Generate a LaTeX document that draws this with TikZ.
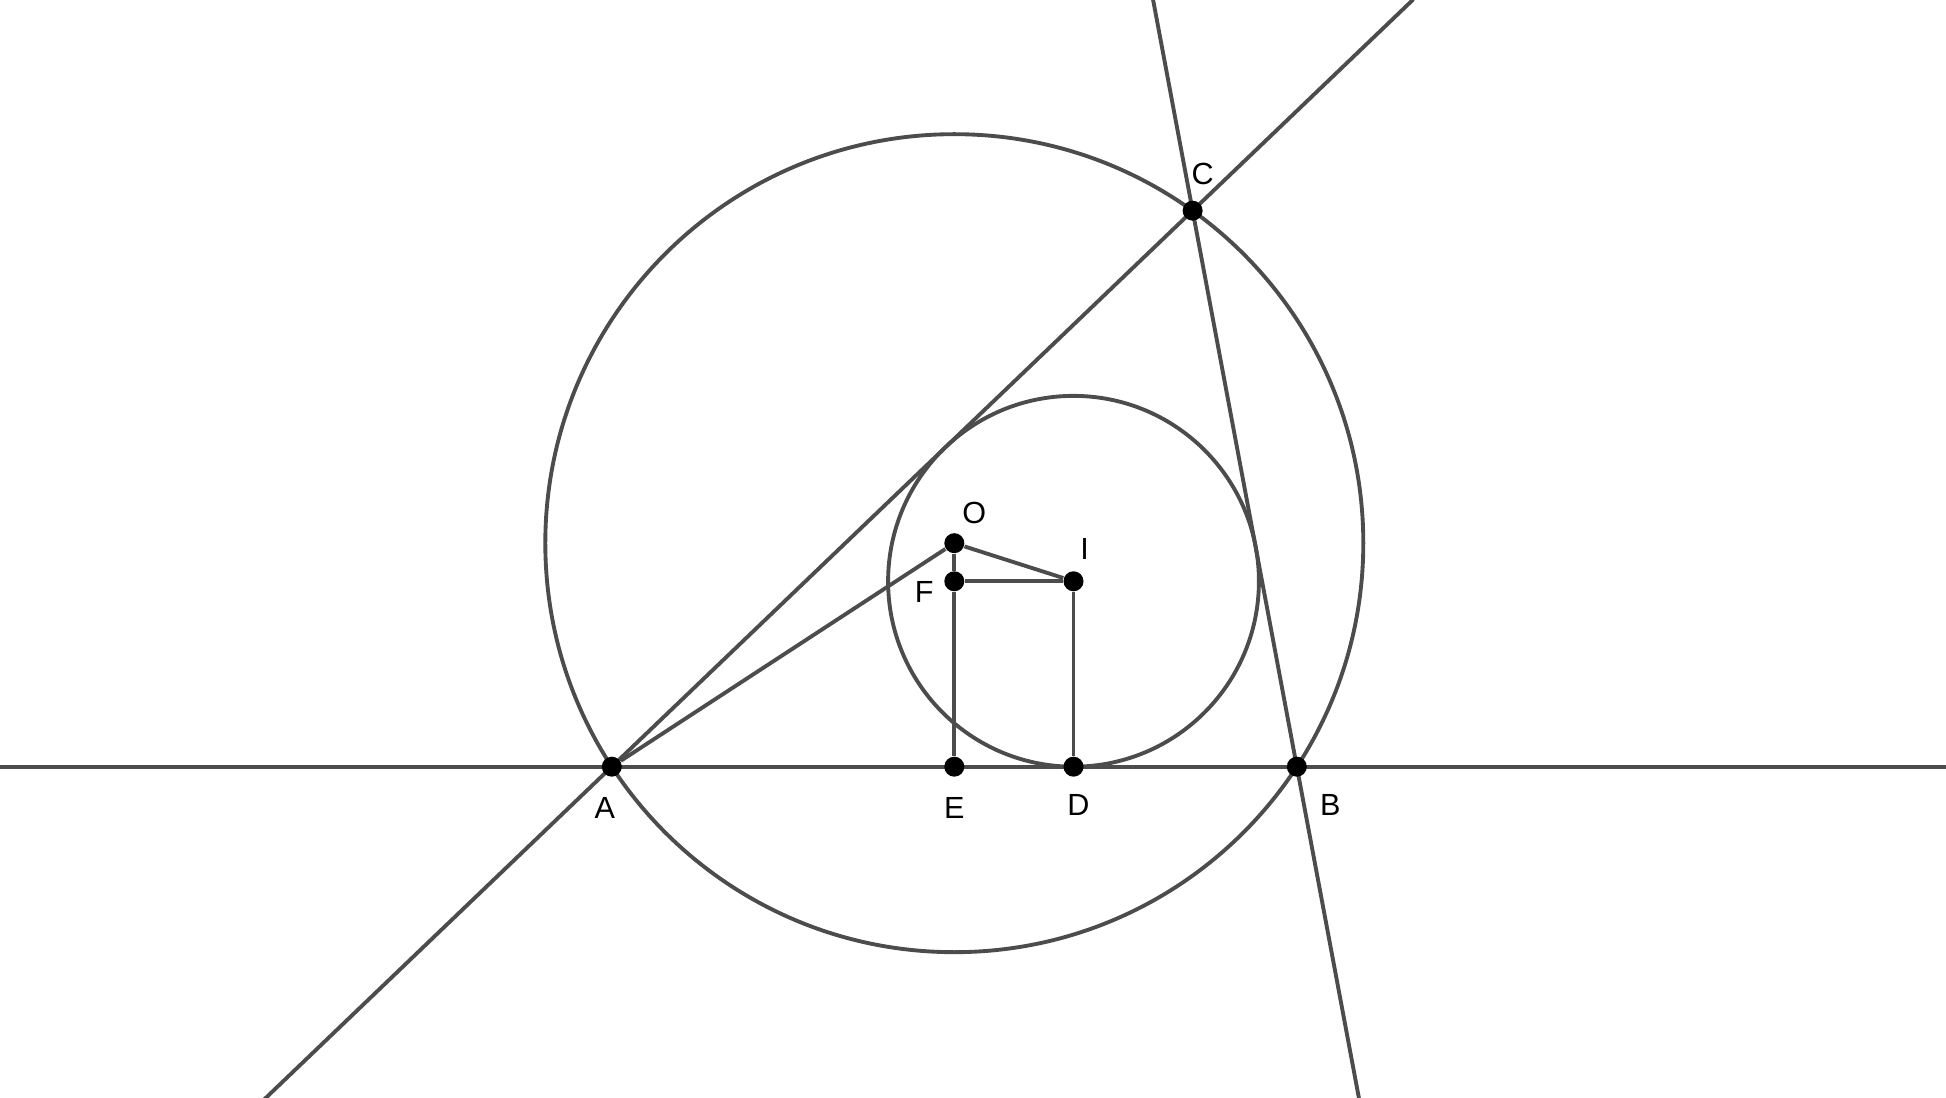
\documentclass[tikz,border=0pt]{standalone}
\usepackage{fontspec}
\setsansfont{Liberation Sans}
\usetikzlibrary{calc,backgrounds}
\tikzstyle{dot} = [circle,fill=black,inner sep=0pt,minimum size=2mm]
\tikzstyle{lbl} = [font=\sffamily\fontsize{8.7}{10}\selectfont,inner sep=0pt]
\tikzstyle{geo} = [draw=black!70,line width=1.1pt]

\begin{document}
\begin{tikzpicture}
        \useasboundingbox (0,0) rectangle (19.46,10.98);
        \node[dot] at (6.118,3.313) (A) {};
        \node[dot] at (12.968,3.313) (B) {};
        \node[dot] at (11.926,8.873) (C) {};
        \node[dot] at (9.543,5.548) (O) {};
        \node[dot] at (10.735,5.167) (I) {};
        \node[dot] at (9.543,5.167) (F) {};
        \node[dot] at (9.543,3.313) (E) {};
        \node[dot] at (10.735,3.313) (D) {};

        \node[lbl] at ($(A)+(-0.07,-0.41)$) (la) {A};
        \node[lbl] at ($(B)+(0.335,-0.385)$) (lb) {B};
        \node[lbl] at ($(C)+(0.1,0.37)$) (lc) {C};
        \node[lbl] at ($(O)+(0.2,0.3)$) (lo) {O};
        \node[lbl] at ($(I)+(0.11,0.32)$) (li) {I};
        \node[lbl] at ($(F)+(-0.3,-0.11)$) (lf) {F};
        \node[lbl] at ($(E)+(0,-0.41)$) (le) {E};
        \node[lbl] at ($(D)+(0.05,-0.385)$) (ld) {D};

        \coordinate (ab1) at ($(A)!-0.9!(B)$);
        \coordinate (ab2) at ($(A)!1.95!(B)$);
        \coordinate (ac1) at ($(A)!-0.6!(C)$);
        \coordinate (ac2) at ($(A)!1.38!(C)$);
        \coordinate (bc1) at ($(B)!-0.6!(C)$);
        \coordinate (bc2) at ($(B)!1.38!(C)$);

        \begin{pgfonlayer}{background}
        \clip (0,0) rectangle (19.46,10.98);
        \draw[geo] (O.center) circle[radius=4.09];
        \draw[geo] (I.center) circle[radius=1.854];
        \draw[geo] (ab1) -- (ab2);
        \draw[geo] (ac1) -- (ac2);
        \draw[geo] (bc1) -- (bc2);
        \draw[geo] (A) -- (O);
        \draw[geo] (O) -- (I);
        \draw[geo] (O) -- (F);
        \draw[geo] (F) -- (I);
        \draw[geo] (F) -- (E);
        \draw[geo] (I) -- (D);
        \end{pgfonlayer}
\end{tikzpicture}
\end{document}
